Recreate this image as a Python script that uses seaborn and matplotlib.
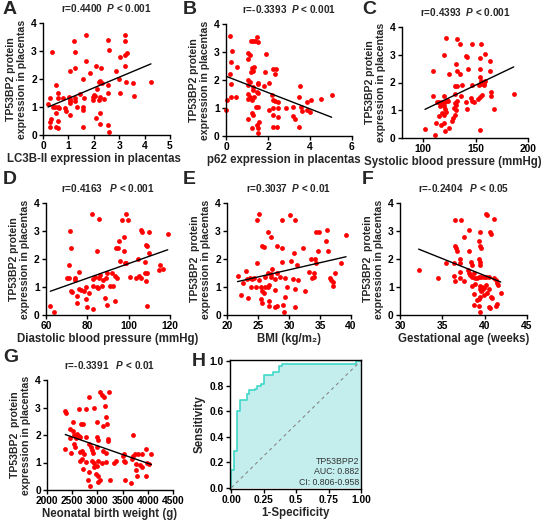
import matplotlib
matplotlib.use('Agg')
import numpy as np
import pandas as pd
import matplotlib.pyplot as plt
import seaborn as sns

#%% data: (x, TP53BP2 expression) per panel
a_pts = [(0.35, 2.95), (1.68, 3.58), (1.21, 3.37), (2.57, 3.39), (3.24, 3.58), (3.24, 3.37), (2.58, 3.04),
         (1.25, 2.98), (3.3, 2.92), (3.24, 2.86), (1.71, 2.64), (3.05, 2.77), (1.25, 2.4), (1.05, 2.3),
         (2.07, 2.48), (2.28, 2.4), (1.84, 2.23), (2.86, 2.3), (3.24, 2.48), (1.59, 1.99), (2.21, 1.88),
         (2.26, 1.93), (2.34, 1.87), (3.0, 2.0), (2.57, 1.79), (3.25, 1.9), (3.55, 1.85), (4.25, 1.89),
         (0.5, 1.79), (2.13, 1.65), (2.01, 1.43), (2.54, 1.49), (3.03, 1.49), (3.59, 1.4), (1.47, 1.46),
         (0.6, 1.49), (0.26, 1.31), (0.59, 1.31), (0.79, 1.31), (1.01, 1.37), (1.05, 1.27), (1.25, 1.33),
         (1.6, 1.31), (1.95, 1.35), (2.04, 1.39), (2.26, 1.37), (2.41, 1.3), (0.2, 1.1), (0.4, 1.0),
         (0.46, 0.99), (0.59, 1.01), (0.62, 0.95), (0.86, 0.95), (0.92, 0.87), (1.05, 1.13), (1.32, 1.01),
         (1.58, 0.99), (1.58, 0.89), (1.05, 0.71), (0.53, 0.8), (2.24, 0.8), (2.1, 0.6), (2.24, 0.39),
         (0.33, 0.56), (0.29, 0.48), (0.59, 0.51), (0.26, 0.3), (0.5, 0.3), (0.61, 0.26), (1.58, 0.29),
         (2.57, 0.35), (2.59, 0.12), (1.05, 1.2), (1.25, 1.22), (1.95, 1.25), (2.2, 1.25)]

b_pts = [(0.19, 3.58), (0.27, 3.04), (0.22, 2.64), (0.54, 2.45), (1.17, 3.38), (1.27, 3.39), (1.37, 3.4),
         (1.49, 3.55), (1.54, 3.37), (1.06, 2.97), (1.14, 2.89), (1.06, 2.76), (1.9, 2.93), (1.33, 2.48),
         (1.27, 2.33), (1.19, 2.3), (1.24, 2.42), (1.84, 2.29), (2.24, 2.39), (2.38, 2.39), (2.33, 2.21),
         (0.19, 2.2), (1.03, 2.0), (1.14, 1.94), (1.51, 1.9), (1.54, 1.85), (0.22, 1.85), (2.03, 1.88),
         (1.81, 1.79), (1.03, 1.82), (1.27, 1.76), (1.27, 1.64), (3.52, 1.79), (1.46, 1.58), (1.52, 1.52),
         (1.06, 1.5), (1.14, 1.38), (0.22, 1.4), (0.48, 1.4), (0.03, 1.29), (0.0, 0.93), (1.06, 1.31),
         (1.22, 1.29), (1.33, 1.38), (2.17, 1.46), (2.22, 1.29), (2.49, 1.2), (2.33, 1.26), (3.49, 1.39),
         (3.84, 1.2), (4.06, 1.29), (4.52, 1.31), (5.03, 1.45), (1.43, 1.05), (1.54, 1.02), (1.22, 0.81),
         (1.03, 0.6), (1.3, 0.75), (2.03, 0.93), (2.25, 0.99), (2.49, 0.99), (2.86, 0.99), (2.22, 0.75),
         (2.49, 0.69), (3.21, 1.02), (3.21, 0.71), (3.29, 0.6), (3.56, 1.05), (3.63, 0.89), (3.84, 0.93),
         (4.0, 0.87), (1.57, 0.51), (1.49, 0.39), (1.54, 0.27), (1.51, 0.12), (1.22, 0.27), (2.22, 0.31),
         (2.41, 0.33), (3.49, 0.31)]

c_pts = [(122, 3.6), (132.6, 3.58), (134.8, 3.4), (146.8, 3.4), (155.4, 3.4), (120, 3.0), (131.6, 2.65),
         (140.8, 2.96), (142, 2.93), (154.7, 2.89), (158.9, 3.04), (163.6, 2.78), (109.8, 2.42), (124.7, 2.3),
         (132, 2.41), (134.8, 2.3), (142.7, 2.5), (154.7, 2.48), (164.2, 2.42), (154.7, 2.2), (155.7, 2.06),
         (130.4, 1.87), (132.6, 1.87), (137, 1.9), (146.8, 1.9), (153.5, 1.9), (155.4, 1.96), (158, 1.9),
         (158.5, 1.99), (158.9, 2.06), (109.8, 1.51), (120, 1.51), (130, 1.57), (135.8, 1.51), (145.3, 1.43),
         (146.8, 1.33), (149, 1.28), (141, 1.28), (152.5, 1.39), (154.7, 1.49), (156.3, 1.54), (164.9, 1.64),
         (165.2, 1.51), (186.4, 1.58), (113, 1.28), (115.2, 1.28), (116.8, 1.25), (118.4, 1.28), (120.6, 1.31),
         (123.1, 1.37), (124, 1.33), (116.1, 1.16), (120, 1.16), (120.6, 1.04), (130, 1.27), (131, 1.19),
         (132.6, 1.33), (129.4, 1.07), (131, 1.01), (141.5, 1.03), (167.8, 1.04), (115.2, 0.79), (120, 0.83),
         (122.2, 0.92), (117.7, 0.89), (127.2, 0.61), (128.8, 0.71), (130, 0.83), (112, 0.53), (116.8, 0.47),
         (120, 0.53), (120.6, 0.25), (124.7, 0.35), (101.9, 0.31), (111, 0.11), (154.7, 0.29)]

d_pts = [(82.4, 3.6), (85.6, 3.43), (98.6, 3.6), (96.8, 3.4), (99.7, 3.4), (71.4, 3.0), (72.2, 2.41),
         (71, 1.79), (84.5, 2.29), (97.8, 2.78), (97.6, 2.29), (93.8, 2.41), (94.9, 2.41), (95.4, 2.65),
         (106, 3.02), (106.6, 2.98), (109.8, 2.95), (118.9, 2.89), (108.6, 2.5), (109, 2.45), (95.7, 1.93),
         (98.1, 1.87), (98.9, 1.87), (104.6, 2.0), (109.6, 2.23), (107.7, 1.91), (115, 1.8), (76.2, 1.52),
         (83.7, 1.37), (86.1, 1.43), (89.3, 1.49), (91.7, 1.49), (82.6, 1.29), (85.8, 1.31), (89, 1.31),
         (74.1, 1.31), (70, 1.31), (71.2, 1.31), (74.1, 1.25), (93.3, 1.4), (94.4, 1.31), (100.6, 1.34),
         (103.7, 1.31), (105, 1.4), (105.8, 1.31), (107.8, 1.49), (109, 1.49), (114.9, 1.61), (116.5, 1.63),
         (82.6, 1.04), (84.5, 1.01), (85.3, 0.98), (79.4, 1.01), (76, 0.93), (76.8, 0.9), (78.4, 0.86),
         (86.9, 1.04), (90.9, 1.04), (92.5, 1.04), (72.2, 0.87), (108.5, 1.22), (74.9, 0.68), (81, 0.78),
         (79.4, 0.56), (88.5, 0.62), (75.2, 0.42), (80, 0.3), (82.6, 0.2), (89.3, 0.36), (93.6, 0.5),
         (109, 0.32), (62.1, 0.32), (64, 0.12), (72.5, 0.82), (87.5, 1.25)]

e_pts = [(25.2, 3.6), (24.9, 3.4), (28.8, 3.4), (30.2, 3.58), (31, 3.4), (26.6, 2.95), (27.1, 2.77),
         (34.4, 2.96), (34.9, 2.98), (36.2, 3.04), (39.2, 2.86), (35.9, 2.65), (25.6, 2.47), (25.9, 2.42),
         (28, 2.47), (28.9, 2.39), (30.8, 2.23), (32.3, 2.39), (34.7, 2.3), (36.3, 2.3), (24.9, 1.85),
         (28.8, 1.89), (30.4, 1.93), (33.5, 2.0), (34.2, 2.0), (34.4, 1.85), (38.4, 1.85), (21.7, 1.4),
         (23.1, 1.58), (26.6, 1.49), (27.3, 1.64), (27.1, 1.46), (28.1, 1.49), (31.3, 1.79), (33.3, 1.52),
         (34, 1.49), (37.4, 1.49), (22.6, 1.13), (23.2, 1.28), (23.7, 1.31), (24, 1.28), (24.4, 1.31),
         (25.2, 1.25), (26.2, 1.35), (27.1, 1.35), (27.7, 1.28), (28.5, 1.35), (29.4, 1.31), (30.6, 1.28),
         (31.5, 1.25), (33.7, 1.31), (34, 1.35), (36.6, 1.31), (36.8, 1.25), (37.1, 1.19), (37.1, 1.04),
         (23.8, 1.01), (24.7, 1.01), (25.5, 1.01), (26.1, 1.01), (26.6, 1.01), (26.7, 1.07), (25.6, 0.87),
         (25.9, 0.8), (27.8, 0.9), (29.6, 1.01), (30.9, 0.92), (32.6, 0.84), (22.2, 0.72), (23.4, 0.6),
         (25.5, 0.56), (25.6, 0.44), (26.7, 0.51), (26.7, 0.32), (27.7, 0.3), (28, 0.32), (29.4, 0.63),
         (29.1, 0.36), (29.2, 0.12), (31, 0.3)]

f_pts = [(32.2, 1.59), (34.5, 1.31), (35.4, 1.85), (36.5, 3.4), (37.2, 3.4), (38.2, 3.04), (37.6, 2.78),
         (36.5, 2.47), (36.6, 2.39), (36.7, 2.3), (37.1, 2.0), (38.1, 2.3), (39.3, 2.65), (39.4, 2.47),
         (39.6, 2.39), (39.4, 2.98), (40.6, 2.95), (40.8, 2.9), (40.2, 3.6), (40.3, 3.58), (41.1, 3.43),
         (36.4, 1.85), (37.1, 1.85), (38.4, 1.91), (38.5, 1.79), (39.3, 2.0), (39.4, 1.91), (39.5, 1.79),
         (36.4, 1.4), (37.1, 1.55), (38.1, 1.49), (38.3, 1.43), (38.5, 1.37), (38.7, 1.49), (38.9, 1.31),
         (39.1, 1.31), (39.3, 1.34), (39.6, 1.35), (39.9, 1.35), (40.2, 1.37), (40.5, 1.35), (41.1, 1.31),
         (41.3, 1.25), (37.1, 1.31), (36.5, 1.23), (38.5, 1.04), (39.5, 1.04), (39.7, 1.01), (39.9, 0.96),
         (39.4, 0.92), (39.7, 0.9), (39.6, 0.84), (40.2, 1.07), (40.5, 0.92), (41.4, 1.13), (41.6, 1.07),
         (41.9, 0.8), (40.3, 0.8), (40.7, 0.66), (40.9, 0.6), (38.7, 0.75), (39.1, 0.54), (39.3, 0.56),
         (39.5, 0.66), (39.9, 0.72), (38.7, 0.36), (39.3, 0.32), (39.4, 0.12), (40.5, 0.3), (40.6, 0.26),
         (41.3, 0.32), (41.5, 0.39), (37.5, 1.2), (38.0, 1.6), (38.9, 1.1)]

g_pts = [(2362, 2.89), (2382, 2.81), (2362, 1.49), (2625, 2.93), (2513, 2.47), (2461, 2.23), (2513, 2.15),
         (2678, 2.39), (2724, 2.39), (2776, 2.96), (2836, 3.4), (2934, 2.99), (3053, 3.58), (3086, 3.44),
         (3132, 3.4), (3237, 3.58), (3151, 3.04), (3171, 2.65), (2993, 2.47), (3197, 2.39), (3105, 2.33),
         (2526, 1.99), (2592, 2.03), (2632, 1.97), (2645, 1.91), (2579, 1.89), (2461, 1.89), (2540, 1.67),
         (2546, 1.58), (2776, 1.91), (2829, 1.67), (2868, 1.55), (2993, 1.91), (3007, 1.81), (3204, 1.85),
         (3217, 1.79), (3000, 1.55), (3105, 1.41), (3171, 1.34), (3500, 1.22), (3526, 1.31), (3711, 1.25),
         (3750, 1.31), (3809, 1.31), (3875, 1.31), (3974, 1.49), (4072, 1.31), (3711, 2.0), (2474, 1.34),
         (2645, 1.37), (2691, 1.43), (2737, 1.31), (2888, 1.46), (2921, 1.34), (2658, 1.07), (2697, 1.13),
         (2776, 1.01), (2888, 1.05), (2934, 0.98), (2987, 0.86), (2941, 0.84), (3020, 1.07), (3086, 0.98),
         (3171, 1.01), (3336, 0.98), (3368, 1.05), (3526, 1.05), (3546, 1.01), (3770, 0.96), (3836, 0.9),
         (3987, 0.98), (4020, 0.96), (3678, 1.13), (3875, 0.84), (2724, 0.78), (2842, 0.66), (2974, 0.6),
         (2809, 0.36), (3020, 0.5), (3053, 0.36), (3020, 0.3), (2855, 0.14), (3250, 0.36), (3546, 0.36),
         (3665, 0.26), (3770, 0.72), (3783, 0.5), (3974, 0.5)]

# ROC curve (H)
roc_fpr = [0, 0, 0.02, 0.02, 0.045, 0.045, 0.065, 0.065, 0.12, 0.12, 0.14, 0.14, 0.18, 0.18, 0.2, 0.2,
           0.23, 0.23, 0.25, 0.25, 0.32, 0.32, 0.37, 0.37, 0.39, 0.39, 0.96, 0.96, 1.0]
roc_tpr = [0, 0.14, 0.14, 0.29, 0.29, 0.60, 0.60, 0.69, 0.69, 0.74, 0.74, 0.77, 0.77, 0.78, 0.78, 0.80,
           0.80, 0.82, 0.82, 0.89, 0.89, 0.91, 0.91, 0.96, 0.96, 0.975, 0.975, 1.0, 1.0]
roc_text = ['TP53BPP2', 'AUC: 0.882', 'CI: 0.806-0.958']

titles = ['r=0.4400  $P$ < 0.001', 'r=-0.3393  $P$ < 0.001', 'r=0.4393  $P$ < 0.001',
          'r=0.4163   $P$ < 0.001', 'r=0.3037  $P$ < 0.01', 'r=-0.2404   $P$ < 0.05',
          'r=-0.3391   $P$ < 0.01']
xlabels = ['LC3B-II expression in placentas', 'p62 expression in placentas',
           'Systolic blood pressure (mmHg)', 'Diastolic blood pressure (mmHg)',
           'BMI (kg/m\u2082)', 'Gestational age (weeks)', 'Neonatal birth weight (g)']
ylabels = ['TP53BP2 protein\nexpression in placentas'] * 4 + ['TP53BP2  protein\nexpression in placentas'] * 3
xticks = [[0, 1, 2, 3, 4, 5], [0, 2, 4, 6], [100, 150, 200], [60, 80, 100, 120],
          [20, 25, 30, 35, 40], [30, 35, 40, 45], [2000, 2500, 3000, 3500, 4000, 4500]]
xlims = [(0, 5), (0, 6), (80, 200), (60, 120), (20, 40), (30, 45), (2000, 4500)]
letters = ['A', 'B', 'C', 'D', 'E', 'F', 'G', 'H']

#%% style
sns.set_style('ticks')
plt.rc('font', family=['Liberation Sans', 'DejaVu Sans'], weight='bold', size=7)
plt.rc('mathtext', fontset='custom', rm='Liberation Sans:bold',
       it='Liberation Sans:italic:bold', bf='Liberation Sans:bold')
plt.rc('axes', linewidth=1.0, labelweight='bold', edgecolor='black', titleweight='bold')
plt.rc('xtick', color='black')
plt.rc('ytick', color='black')

W, H = 546, 521
fig = plt.figure(figsize=(W / 100, H / 100), dpi=100)

def px_axes(l, t, r, b):
    return fig.add_axes([l / W, 1 - b / H, (r - l) / W, (b - t) / H])

# axes boxes in pixels (left, top, right, bottom)
boxes = [(43, 23, 170, 135), (226, 24, 352, 136), (402, 27, 528, 138),
         (46, 203, 170, 315), (227, 203, 351, 315), (400, 203, 527, 315),
         (47, 380, 173, 490), (230, 360, 361, 489)]
letter_pos = [(3, 10), (183, 10), (362, 10), (3, 180), (183, 180), (362, 180), (3, 358), (192, 361)]
xlabel_x = [0.40, 0.46, 0.40, 0.5, 0.5, 0.5, 0.5]

all_pts = [a_pts, b_pts, c_pts, d_pts, e_pts, f_pts, g_pts]

#%% scatter panels
for n, pts in enumerate(all_pts):
    ax = px_axes(*boxes[n])
    df = pd.DataFrame(pts, columns=['x', 'y'])
    sns.regplot(data=df, x='x', y='y', ax=ax, ci=None, color='red',
                scatter_kws=dict(s=12, linewidths=0, alpha=1, clip_on=False),
                line_kws=dict(color='black', lw=1.0))
    ax.set_xlim(*xlims[n])
    ax.set_ylim(0, 4)
    ax.set_xticks(xticks[n])
    ax.set_yticks([0, 1, 2, 3, 4])
    ax.set_xlabel(xlabels[n], fontsize=8.3, labelpad=1.5)
    ax.xaxis.label.set_x(xlabel_x[n])
    ax.set_ylabel(ylabels[n], fontsize=7.6, labelpad=3, linespacing=1.05)
    ax.set_title(titles[n], fontsize=7.2, pad=8, fontweight='bold')
    ax.tick_params(direction='out', length=3, width=1, pad=1.5, labelsize=7.4)
    sns.despine(ax=ax)

#%% ROC panel
ax = px_axes(*boxes[7])
ax.fill_between(roc_fpr, roc_tpr, 0, color='#c4eeee', lw=0)
sns.lineplot(x=roc_fpr, y=roc_tpr, ax=ax, color='#3fd8c8', lw=1.2, sort=False, estimator=None)
ax.plot([0, 1], [0, 1], ls=(0, (3, 3)), color='#888888', lw=0.8)
ax.set_xlim(-0.01, 1.0)
ax.set_ylim(-0.01, 1.005)
ax.set_xticks([0, 0.25, 0.5, 0.75, 1.0])
ax.set_xticklabels(['0.00', '0.25', '0.5', '0.75', '1.00'])
ax.set_yticks([0, 0.2, 0.4, 0.6, 0.8, 1.0])
ax.set_yticklabels(['0.0', '0.2', '0.4', '0.6', '0.8', '1.0'])
ax.set_xlabel('1-Specificity', fontsize=8.3, labelpad=1.5)
ax.set_ylabel('Sensitivity', fontsize=8.3, labelpad=3)
ax.tick_params(direction='out', length=3, width=1, pad=1.5, labelsize=7.4)
for i, t in enumerate(roc_text):
    ax.text(0.985, 0.215 - i * 0.083, t, transform=ax.transAxes, ha='right', va='center',
            fontsize=6.3, weight='normal', color='#333333')

for (x, y), L in zip(letter_pos, letters):
    fig.text(x / W, 1 - y / H, L, fontsize=14, weight='bold', va='center', ha='left')

plt.savefig('out.png', dpi=100)
